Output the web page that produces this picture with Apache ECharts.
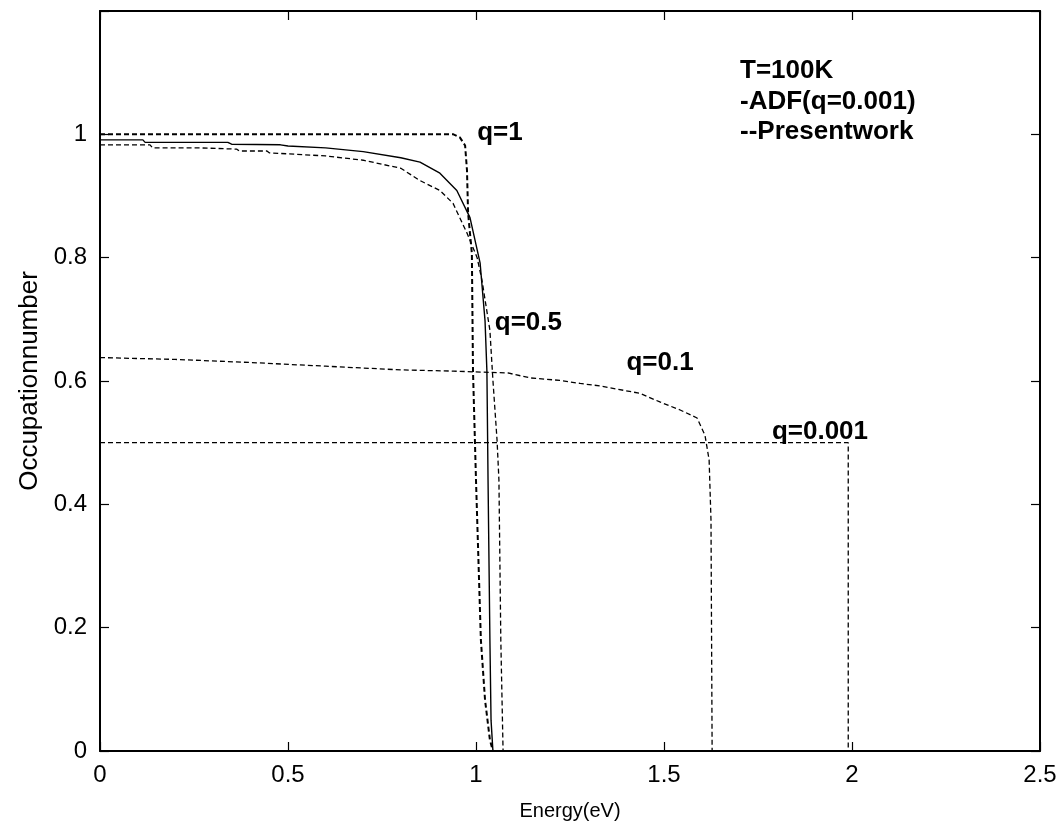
<!DOCTYPE html>
<html>
<head>
<meta charset="utf-8">
<script src="https://cdn.jsdelivr.net/npm/echarts@6/dist/echarts.min.js"></script>
<style>html,body{margin:0;padding:0;background:#fff}#c{width:1063px;height:835px}</style>
</head>
<body>
<div id="c"></div>
<script>
// q=1 curve
const q1X = [0, 0.94, 0.957, 0.971, 0.976, 0.979, 0.989, 0.992, 1.0, 1.013, 1.024, 1.037, 1.045, 2.5];
const q1Y = [1.0, 1.0, 0.995, 0.982, 0.942, 0.872, 0.807, 0.617, 0.439, 0.18, 0.083, 0.018, 0, 0];
// ADF (q=0.001) solid curve
const adfX = [0, 0.114, 0.12, 0.34, 0.35, 0.48, 0.5, 0.6, 0.7, 0.8, 0.851, 0.904, 0.949, 0.984, 1.011, 1.024, 1.029, 1.031, 1.032, 1.037, 1.04, 1.045, 2.5];
const adfY = [0.991, 0.991, 0.987, 0.987, 0.984, 0.983, 0.981, 0.978, 0.972, 0.962, 0.955, 0.937, 0.909, 0.865, 0.791, 0.698, 0.616, 0.5, 0.44, 0.18, 0.05, 0, 0];
// q=0.5 curve
const q05X = [0, 0.133, 0.14, 0.266, 0.27, 0.364, 0.37, 0.444, 0.45, 0.6, 0.7, 0.8, 0.851, 0.904, 0.939, 0.976, 1.003, 1.016, 1.037, 1.045, 1.056, 1.061, 1.066, 1.072, 2.5];
const q05Y = [0.983, 0.983, 0.978, 0.978, 0.976, 0.976, 0.973, 0.973, 0.970, 0.965, 0.958, 0.945, 0.925, 0.909, 0.888, 0.84, 0.80, 0.763, 0.682, 0.601, 0.504, 0.439, 0.18, 0, 0];
// q=0.1 curve
const q01X = [0, 0.2, 0.4, 0.6, 0.8, 0.94, 1.085, 1.144, 1.223, 1.277, 1.33, 1.436, 1.489, 1.543, 1.588, 1.609, 1.62, 1.625, 1.628, 2.5];
const q01Y = [0.638, 0.635, 0.63, 0.624, 0.618, 0.616, 0.613, 0.605, 0.601, 0.596, 0.592, 0.58, 0.566, 0.553, 0.54, 0.512, 0.472, 0.374, 0, 0];
// q=0.001 curve
const q0001X = [0, 1.99, 1.99, 2.5];
const q0001Y = [0.5, 0.5, 0, 0];

const xTicks = [0, 0.5, 1, 1.5, 2, 2.5];
const yTicks = [0, 0.2, 0.4, 0.6, 0.8, 1];

const curveLabels = [
  {text: 'q=1', x: 1.003, y: 1.003},
  {text: 'q=0.5', x: 1.05, y: 0.695},
  {text: 'q=0.1', x: 1.40, y: 0.630},
  {text: 'q=0.001', x: 1.787, y: 0.518}
];
const noteLines = ['T=100K', '-ADF(q=0.001)', '--Presentwork'];

const zip = (xs, ys) => xs.map((x, i) => [x, ys[i]]);
const FONT = 'Liberation Sans, Arial, sans-serif';

const chart = echarts.init(document.getElementById('c'), null, {renderer: 'canvas'});

const dash = [5, 3];
function lineSeries(name, xs, ys, type, width) {
  return {
    name, type: 'line', data: zip(xs, ys), showSymbol: false, symbol: 'none',
    lineStyle: {color: '#000', width: width, type: type},
    animation: false, z: 3
  };
}

const series = [
  lineSeries('q=1', q1X, q1Y, dash, 2),
  lineSeries('ADF', adfX, adfY, 'solid', 1.4),
  lineSeries('q=0.5', q05X, q05Y, dash, 1.3),
  lineSeries('q=0.1', q01X, q01Y, dash, 1.3),
  lineSeries('q=0.001', q0001X, q0001Y, dash, 1.3),
  {
    type: 'scatter', symbolSize: 0, silent: true, animation: false, z: 5,
    itemStyle: {opacity: 1, color: '#000'},
    data: curveLabels.map(l => ({value: [l.x, l.y], label: {show: true, formatter: l.text, position: 'right', distance: 0,
      color: '#000', opacity: 1, fontFamily: FONT, fontWeight: 'bold', fontSize: 26}}))
  }
];

function axisCommon() {
  return {
    axisLine: {show: true, onZero: false, lineStyle: {color: '#000', width: 2}},
    axisTick: {show: true, inside: true, length: 9, lineStyle: {color: '#000', width: 1.2}},
    splitLine: {show: false}
  };
}

chart.setOption({
  animation: false,
  backgroundColor: '#fff',
  grid: {left: 100, top: 11, right: 23, bottom: 84, containLabel: false},
  xAxis: [
    Object.assign({
      type: 'value', min: 0, max: 2.5, interval: 0.5, position: 'bottom',
      name: 'Energy(eV)', nameLocation: 'middle', nameGap: 50,
      nameTextStyle: {color: '#000', fontFamily: FONT, fontSize: 20},
      axisLabel: {color: '#000', fontFamily: FONT, fontSize: 24, margin: 12,
        formatter: v => xTicks.includes(v) ? String(v) : ''}
    }, axisCommon()),
    Object.assign({
      type: 'value', min: 0, max: 2.5, interval: 0.5, position: 'top', axisLabel: {show: false}
    }, axisCommon())
  ],
  yAxis: [
    Object.assign({
      type: 'value', min: 0, max: 1.2, interval: 0.2, position: 'left',
      name: 'Occupationnumber', nameLocation: 'middle', nameGap: 57,
      nameTextStyle: {color: '#000', fontFamily: FONT, fontSize: 26},
      axisLabel: {color: '#000', fontFamily: FONT, fontSize: 24, margin: 13,
        formatter: v => yTicks.some(t => Math.abs(t - v) < 1e-9) ? String(Math.round(v * 10) / 10) : ''}
    }, axisCommon()),
    Object.assign({
      type: 'value', min: 0, max: 1.2, interval: 0.2, position: 'right', axisLabel: {show: false}
    }, axisCommon())
  ],
  graphic: [{
    type: 'text', left: 740, top: 56, silent: true,
    style: {text: noteLines.join('\n'), fill: '#000', font: 'bold 26px ' + FONT, lineHeight: 30.5}
  }],
  series: series
});
</script>
</body>
</html>
